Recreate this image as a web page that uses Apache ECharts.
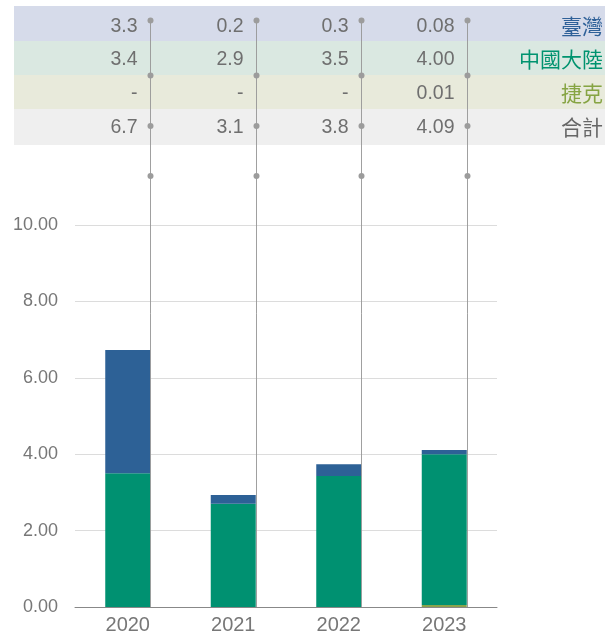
<!DOCTYPE html>
<html><head><meta charset="utf-8">
<script src="https://cdn.jsdelivr.net/npm/echarts@6/dist/echarts.min.js"></script>
<style>html,body{margin:0;padding:0;background:#fff}#c{width:605px;height:637px}</style>
</head><body><div id="c"></div>
<script>
// ---- data ----
const categories = ['2020', '2021', '2022', '2023'];
// bar heights as drawn
const czechBars  = [0, 0, 0, 0.05];
const chinaBars  = [3.5, 2.7, 3.43, 3.95];
const taiwanBars = [3.23, 0.23, 0.31, 0.11];
// table texts
const rowLabels   = ['臺灣', '中國大陸', '捷克', '合計'];
const tableTaiwan = ['3.3', '0.2', '0.3', '0.08'];
const tableChina  = ['3.4', '2.9', '3.5', '4.00'];
const tableCzech  = ['-', '-', '-', '0.01'];
const tableTotal  = ['6.7', '3.1', '3.8', '4.09'];
const yTicks = [0, 2, 4, 6, 8, 10];

// ---- style ----
const FONT = '"Liberation Sans", Arial, sans-serif';
const CJK = '"Noto Sans CJK TC", sans-serif';
const BAR_W = 45;
const colBlue = '#2d6196', colGreen = '#009171', colOlive = '#8aa34c';
const rowBg = ['#d6dbea', '#dae8e1', '#e8eadb', '#efefef'];
const rowLabelColor = ['#2e6098', '#00936f', '#86a443', '#666666'];
const rowTop = [6, 41, 75, 109], rowBottom = [41, 75, 109, 145];
const rowTextY = [27, 60, 94, 128];
const dotY = [20.5, 75.5, 126, 176];
const tableRows = [tableTaiwan, tableChina, tableCzech, tableTotal];

const chart = echarts.init(document.getElementById('c'), null, {renderer: 'canvas'});

const graphics = [];
for (let r = 0; r < 4; r++) {
  graphics.push({type: 'rect', left: 14, top: rowTop[r], z: -10,
    shape: {width: 605 - 14, height: rowBottom[r] - rowTop[r]},
    style: {fill: rowBg[r]}});
  graphics.push({type: 'text', right: 2, top: rowTextY[r] - 11, z: 10,
    style: {text: rowLabels[r], fill: rowLabelColor[r], font: '21px ' + CJK}});
}

chart.setOption({
  animation: false,
  backgroundColor: '#fff',
  grid: {left: 75, right: 108, top: 225, bottom: 30},
  graphic: graphics,
  xAxis: {
    type: 'category', data: categories,
    axisLine: {lineStyle: {color: '#888', width: 1}},
    axisTick: {show: false},
    axisLabel: {color: '#777', fontSize: 20, fontFamily: FONT, margin: 8}
  },
  yAxis: {
    type: 'value', min: yTicks[0], max: yTicks[yTicks.length - 1], interval: 2,
    axisLine: {show: false}, axisTick: {show: false},
    splitLine: {lineStyle: {color: '#dcdcdc', width: 1}},
    axisLabel: {color: '#777', fontSize: 18, fontFamily: FONT, margin: 17,
      formatter: v => v.toFixed(2)}
  },
  series: [
    {type: 'bar', stack: 's', data: czechBars, barWidth: BAR_W, itemStyle: {color: colOlive}},
    {type: 'bar', stack: 's', data: chinaBars, barWidth: BAR_W, itemStyle: {color: colGreen}},
    {type: 'bar', stack: 's', data: taiwanBars, barWidth: BAR_W, itemStyle: {color: colBlue}},
    {
      type: 'custom', z: 5, clip: false, silent: true,
      data: categories.map((c, i) => [i, 0]),
      renderItem: function (params, api) {
        const i = api.value(0);
        const base = api.coord([i, 0]);
        const x = Math.round(base[0] + BAR_W / 2) + 0.5;
        const children = [{
          type: 'line',
          shape: {x1: x, y1: dotY[0], x2: x, y2: base[1]},
          style: {stroke: 'rgba(150,150,150,0.9)', lineWidth: 1}
        }];
        dotY.forEach(y => children.push({
          type: 'circle', shape: {cx: x, cy: y, r: 3},
          style: {fill: '#9c9c9c'}
        }));
        for (let r = 0; r < 4; r++) {
          children.push({
            type: 'text', x: x - 13, y: rowTextY[r],
            style: {text: tableRows[r][i], fill: '#6f6f6f', font: '19.5px ' + FONT,
              align: 'right', verticalAlign: 'middle'}
          });
        }
        return {type: 'group', children: children};
      }
    }
  ]
});
</script>
</body></html>
